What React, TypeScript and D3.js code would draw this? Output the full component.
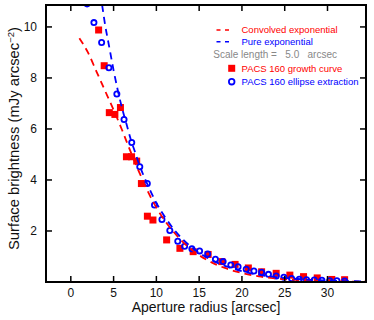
import React from "react";
import * as d3 from "d3";

// PACS 160 growth curve (red squares)
const growthR = [3.25, 3.9, 4.5, 5.15, 5.8, 6.5, 7.1, 7.7, 8.25, 8.95, 9.6, 11.2, 12.75, 14.3, 16.05, 17.65, 19.2, 20.75, 22.3, 24.0, 25.6, 27.2, 28.8, 30.5, 32.0];
const growthI = [9.88, 8.48, 6.64, 6.57, 6.84, 4.91, 4.91, 4.74, 3.86, 2.58, 2.43, 1.65, 1.32, 1.19, 1.08, 0.8, 0.69, 0.55, 0.4, 0.34, 0.27, 0.21, 0.16, 0.1, 0.09];

// PACS 160 ellipse extraction (blue circles)
const ellipseR = [1.9, 2.7, 3.6, 4.45, 5.38, 6.22, 7.12, 8.06, 8.94, 9.78, 10.65, 11.57, 12.5, 13.3, 14.15, 15.05, 16.0, 16.9, 17.8, 18.7, 19.55, 20.5, 21.4, 22.3, 23.1, 24.0, 24.9, 25.8, 26.7, 27.55, 28.45, 29.35, 30.25, 31.1, 32.0];
const ellipseI = [10.9, 10.17, 9.39, 8.4, 7.37, 6.37, 5.47, 4.52, 3.86, 3.02, 2.45, 2.02, 1.6, 1.4, 1.3, 1.22, 1.1, 0.89, 0.8, 0.67, 0.6, 0.5, 0.43, 0.38, 0.3, 0.24, 0.19, 0.14, 0.11, 0.09, 0.08, 0.07, 0.05, 0.05, 0.04];

// convolved exponential (red dashed)
const convR = [1.0, 2, 3, 4, 5, 6, 7, 8, 9, 10, 11, 12, 13, 14, 15, 16, 17, 18, 19, 20, 22, 24, 26, 28, 30, 32, 34.5];
const convI = [9.56, 9.0, 8.25, 7.5, 6.75, 5.95, 5.1, 4.3, 3.55, 2.92, 2.4, 1.97, 1.6, 1.3, 1.05, 0.85, 0.68, 0.55, 0.44, 0.35, 0.22, 0.14, 0.09, 0.055, 0.035, 0.02, 0.013];

// pure exponential (blue dashed)
const pureR = [3.66, 4.0, 4.5, 5, 5.5, 6, 6.5, 7, 7.5, 8, 9, 10, 11, 12, 13, 14, 15, 16, 17, 18, 19, 20, 22, 24, 26, 28, 30, 32, 34.5];
const pureI = [10.86, 10.1, 9.2, 8.3, 7.5, 6.8, 6.2, 5.6, 5.1, 4.6, 3.8, 3.1, 2.55, 2.08, 1.7, 1.4, 1.15, 0.94, 0.77, 0.63, 0.52, 0.42, 0.28, 0.19, 0.13, 0.085, 0.057, 0.038, 0.024];

const xTicks = [0, 5, 10, 15, 20, 25, 30];
const yTicks = [2, 4, 6, 8, 10];

const RED = "#ff0000";
const BLUE = "#0000ff";
const FONT = "'Liberation Sans', Arial, Helvetica, sans-serif";

const App = () => {
  const width = 374;
  const height = 320;
  const margin = { top: 5, right: 8, bottom: 38, left: 46 };
  const x0 = margin.left;
  const x1 = width - margin.right;
  const y0 = height - margin.bottom;
  const y1 = margin.top;

  const x = d3.scaleLinear().domain([-2.9, 34.5]).range([x0, x1]);
  const y = d3.scaleLinear().domain([0, 10.86]).range([y0, y1]);

  const line = d3
    .line<[number, number]>()
    .x((d) => x(d[0]))
    .y((d) => y(d[1]))
    .curve(d3.curveMonotoneX);

  const convPts = convR.map((r, i) => [r, convI[i]] as [number, number]);
  const purePts = pureR.map((r, i) => [r, pureI[i]] as [number, number]);

  const tickLen = 6;
  const sq = 7;

  return (
    <div style={{ position: "absolute", left: 0, top: 0 }}>
      <svg width={width} height={height} fontFamily={FONT}>
        <rect width={width} height={height} fill="white" />
        <defs>
          <clipPath id="plot">
            <rect x={x0} y={y1} width={x1 - x0} height={y0 - y1} />
          </clipPath>
        </defs>

        <g clipPath="url(#plot)">
          {growthR.map((r, i) => (
            <rect
              key={"g" + i}
              x={x(r) - sq / 2}
              y={y(growthI[i]) - sq / 2}
              width={sq}
              height={sq}
              fill={RED}
            />
          ))}
          {ellipseR.map((r, i) => (
            <circle
              key={"e" + i}
              cx={x(r)}
              cy={y(ellipseI[i])}
              r={2.6}
              fill="none"
              stroke={BLUE}
              strokeWidth={1.8}
            />
          ))}
          <path d={line(convPts) || ""} fill="none" stroke={RED} strokeWidth={1.8} strokeDasharray="7,5" />
          <path d={line(purePts) || ""} fill="none" stroke={BLUE} strokeWidth={1.8} strokeDasharray="7,5" />
        </g>

        {/* ticks, all pointing inward */}
        {xTicks.map((t) => (
          <g key={"xt" + t}>
            <line x1={x(t)} x2={x(t)} y1={y0} y2={y0 - tickLen} stroke="black" strokeWidth={1.5} />
            <line x1={x(t)} x2={x(t)} y1={y1} y2={y1 + tickLen} stroke="black" strokeWidth={1.5} />
            <text x={x(t)} y={297} textAnchor="middle" fontSize={12} fill="#111">
              {t}
            </text>
          </g>
        ))}
        {yTicks.map((t) => (
          <g key={"yt" + t}>
            <line x1={x0} x2={x0 + tickLen} y1={y(t)} y2={y(t)} stroke="black" strokeWidth={1.5} />
            <line x1={x1} x2={x1 - tickLen} y1={y(t)} y2={y(t)} stroke="black" strokeWidth={1.5} />
            <text x={x0 - 9} y={y(t)} dy="0.36em" textAnchor="end" fontSize={12} fill="#111">
              {t}
            </text>
          </g>
        ))}

        <rect x={x0} y={y1} width={x1 - x0} height={y0 - y1} fill="none" stroke="black" strokeWidth={2} />

        {/* axis titles */}
        <text x={(x0 + x1) / 2} y={312} textAnchor="middle" fontSize={14} fill="#111">
          Aperture radius [arcsec]
        </text>
        <text transform={`translate(19, 250) rotate(-90)`} textAnchor="start" fontSize={14.8} fill="#111">
          Surface brightness (mJy arcsec
          <tspan dy={-5} fontSize={9.5}>−2</tspan>
          <tspan dy={5}>)</tspan>
        </text>

        {/* legend */}
        <g fontSize={9.5}>
          <line x1={216.5} x2={229} y1={30} y2={30} stroke={RED} strokeWidth={1.5} strokeDasharray="4,4.5" />
          <text x={241.5} y={30} dy="0.35em" fill={RED}>Convolved exponential</text>
          <line x1={216.5} x2={229} y1={41.7} y2={41.7} stroke={BLUE} strokeWidth={1.5} strokeDasharray="4,4.5" />
          <text x={241.5} y={41.7} dy="0.35em" fill={BLUE}>Pure exponential</text>
          <text x={213.3} y={54.5} dy="0.35em" fill="#888" fontSize={10} style={{ whiteSpace: "pre" }}>
            {"Scale length =   5.0   arcsec"}
          </text>
          <rect x={231.7 - 3.5} y={68.3 - 3.5} width={7} height={7} fill={RED} />
          <text x={241.5} y={68.3} dy="0.35em" fill={RED}>PACS 160 growth curve</text>
          <circle cx={231.7} cy={81.7} r={2.8} fill="none" stroke={BLUE} strokeWidth={1.8} />
          <text x={241.5} y={81.7} dy="0.35em" fill={BLUE}>PACS 160 ellipse extraction</text>
        </g>
      </svg>
    </div>
  );
};

export default App;
